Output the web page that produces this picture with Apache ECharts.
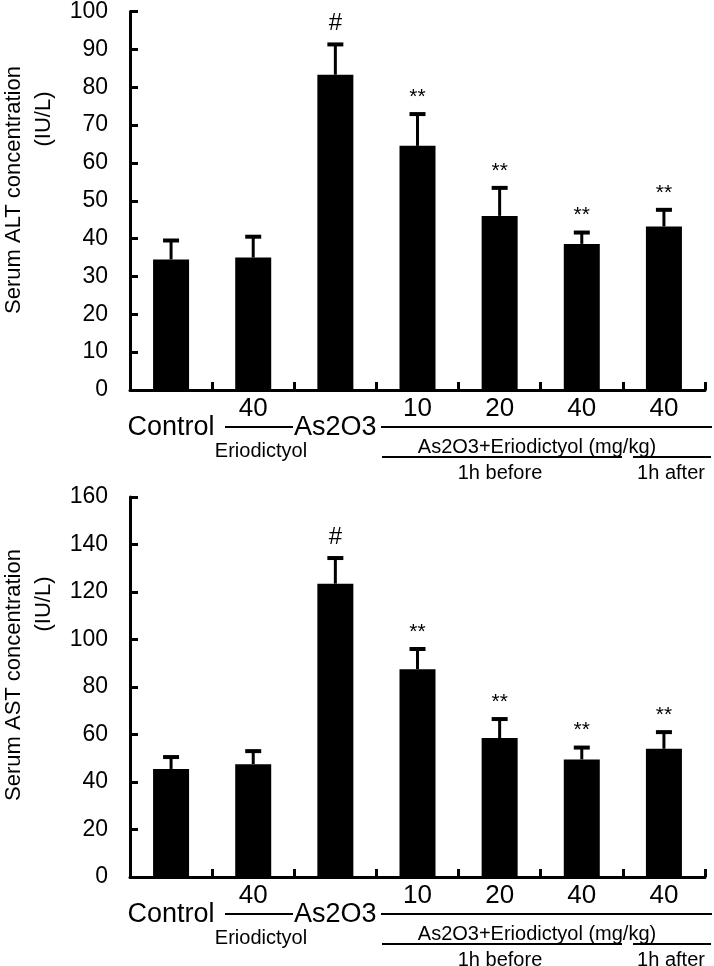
<!DOCTYPE html>
<html><head><meta charset="utf-8">
<script src="https://cdn.jsdelivr.net/npm/echarts@6/dist/echarts.min.js"></script>
<style>html,body{margin:0;padding:0;background:#fff}#c{width:714px;height:966px}</style>
</head><body><div id="c"></div>
<script>
// ---- data ----
const categories = ['Control', '40', 'As2O3', '10', '20', '40', '40'];
const altMean = [34.5, 35, 83.3, 64.5, 46, 38.6, 43.2];
const altErr  = [5, 5.5, 8, 8.4, 7.4, 3, 4.4];
const astMean = [45.5, 47.5, 123.5, 87.5, 58.5, 49.5, 54];
const astErr  = [5, 5.5, 10.8, 8.5, 8, 5, 7];
const marks   = ['', '', '#', '**', '**', '**', '**'];
const altTitle = 'Serum ALT concentration';
const astTitle = 'Serum AST concentration';
const unitTitle = '(IU/L)';
const groupTexts = ['Eriodictyol', 'As2O3+Eriodictyol (mg/kg)', '1h before', '1h after'];

const FONT = '"Liberation Sans", Arial, sans-serif';
const chart = echarts.init(document.getElementById('c'), null, {renderer: 'canvas'});

const grids = [
  {left: 130, right: 9, top: 10, height: 380},
  {left: 130, right: 9, top: 497, height: 380}
];

function xAxis(gi) {
  return {
    type: 'category', gridIndex: gi, data: categories, boundaryGap: true,
    axisLine: {lineStyle: {color: '#000', width: 3}},
    axisTick: {show: true, inside: true, length: 8, lineStyle: {color: '#000', width: 3}},
    axisLabel: {
      interval: 0, margin: 6, color: '#000',
      formatter: function (v) { return isNaN(Number(v)) ? '{a|' + v + '}' : '{n|' + v + '}'; },
      rich: {
        a: {fontSize: 27, fontFamily: FONT, color: '#000', padding: [18, 0, 0, 0]},
        n: {fontSize: 26, fontFamily: FONT, color: '#000'}
      }
    }
  };
}
function yAxis(gi, max, interval) {
  return {
    type: 'value', gridIndex: gi, min: 0, max: max, interval: interval,
    axisLine: {show: true, lineStyle: {color: '#000', width: 3}},
    axisTick: {show: true, inside: true, length: 8, lineStyle: {color: '#000', width: 3}},
    splitLine: {show: false},
    axisLabel: {fontSize: 23, fontFamily: FONT, color: '#000', margin: 22}
  };
}
function bars(gi, vals) {
  return {type: 'bar', xAxisIndex: gi, yAxisIndex: gi, data: vals, barWidth: 36,
    itemStyle: {color: '#000'}, silent: true};
}
function errs(gi, means, es) {
  return {
    type: 'custom', xAxisIndex: gi, yAxisIndex: gi, z: 3, silent: true,
    data: means.map((m, i) => [i, m, m + es[i]]),
    renderItem: function (params, api) {
      const x = api.value(0);
      const b = api.coord([x, api.value(1)]);
      const t = api.coord([x, api.value(2)]);
      const hw = 8;
      const mk = marks[params.dataIndex];
      const children = [
        {type: 'line', shape: {x1: b[0], y1: b[1], x2: t[0], y2: t[1]}, style: {stroke: '#000', lineWidth: 3}},
        {type: 'line', shape: {x1: t[0] - hw, y1: t[1], x2: t[0] + hw, y2: t[1]}, style: {stroke: '#000', lineWidth: 4}}
      ];
      if (mk) {
        children.push({type: 'text', x: t[0], y: t[1] - (mk === '#' ? 21 : 17),
          style: {text: mk, fill: '#000', align: 'center', verticalAlign: 'middle',
            font: (mk === '#' ? '24px ' : '21px ') + FONT}});
      }
      return {type: 'group', children: children};
    }
  };
}

function groupGraphics(A) {
  const st = {stroke: '#000', lineWidth: 2};
  const tf = '20px ' + FONT;
  return [
    {type: 'line', shape: {x1: 225, y1: A + 37, x2: 293, y2: A + 37}, style: st},
    {type: 'line', shape: {x1: 381, y1: A + 37, x2: 712, y2: A + 37}, style: st},
    {type: 'text', x: 261, y: A + 61, style: {text: groupTexts[0], font: tf, fill: '#000', align: 'center', verticalAlign: 'middle'}},
    {type: 'text', x: 537, y: A + 57, style: {text: groupTexts[1], font: tf, fill: '#000', align: 'center', verticalAlign: 'middle'}},
    {type: 'line', shape: {x1: 382, y1: A + 67, x2: 622, y2: A + 67}, style: st},
    {type: 'line', shape: {x1: 633, y1: A + 67, x2: 711, y2: A + 67}, style: st},
    {type: 'text', x: 500, y: A + 83, style: {text: groupTexts[2], font: tf, fill: '#000', align: 'center', verticalAlign: 'middle'}},
    {type: 'text', x: 671, y: A + 83, style: {text: groupTexts[3], font: tf, fill: '#000', align: 'center', verticalAlign: 'middle'}}
  ];
}
function titleGraphics(cy, ucy, title) {
  const tf = '22px ' + FONT;
  return [
    {type: 'text', x: 14, y: cy, rotation: Math.PI / 2,
      style: {text: title, font: tf, fill: '#000', align: 'center', verticalAlign: 'middle'}},
    {type: 'text', x: 44, y: ucy, rotation: Math.PI / 2,
      style: {text: unitTitle, font: tf, fill: '#000', align: 'center', verticalAlign: 'middle'}}
  ];
}

chart.setOption({
  animation: false,
  backgroundColor: '#fff',
  grid: grids,
  xAxis: [xAxis(0), xAxis(1)],
  yAxis: [yAxis(0, 100, 10), yAxis(1, 160, 20)],
  series: [bars(0, altMean), errs(0, altMean, altErr), bars(1, astMean), errs(1, astMean, astErr)],
  graphic: [].concat(groupGraphics(390), groupGraphics(877),
    titleGraphics(190, 119, altTitle), titleGraphics(675, 604, astTitle))
});
</script>
</body></html>
